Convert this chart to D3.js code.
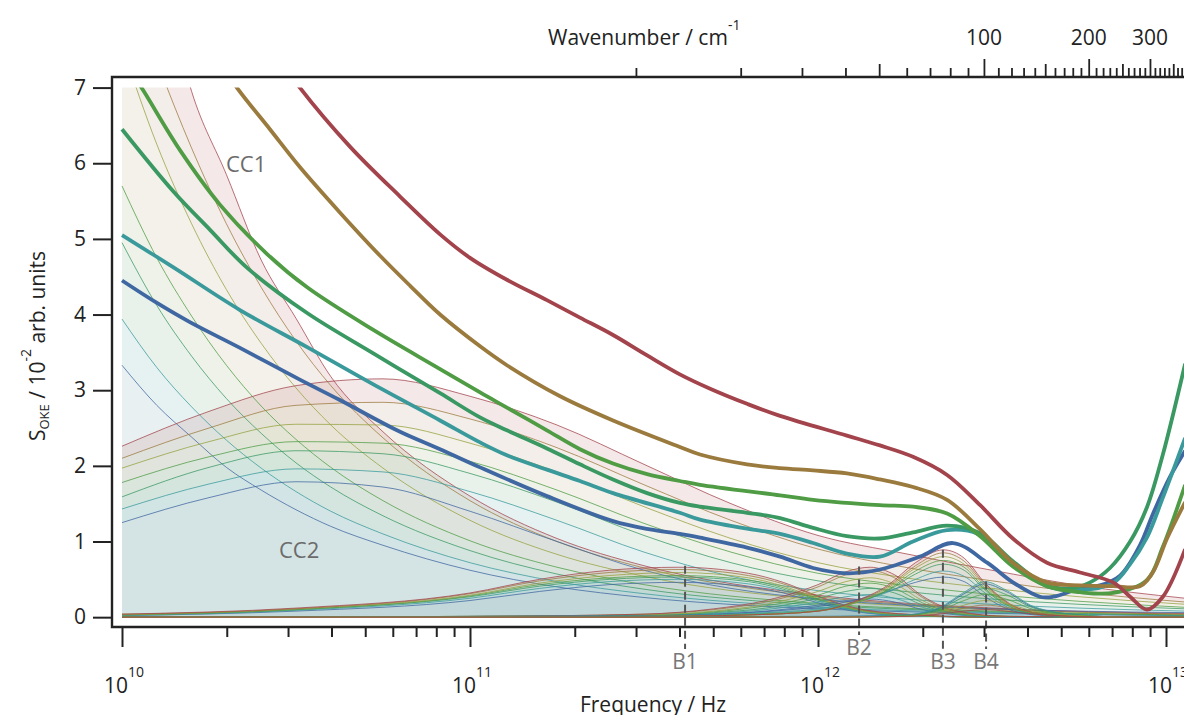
<!DOCTYPE html>
<html>
<head>
<meta charset="utf-8">
<script src="https://cdn.jsdelivr.net/npm/d3@7"></script>
<style>
  body { margin: 0; background: #fff; }
  svg { display: block; font-family: "Open Sans", sans-serif; }
</style>
</head>
<body>
<svg id="chart" width="1184" height="715"></svg>
<script>
// samples, lowest to highest (olive has no total curve drawn)
const sampleColors = ['#3f67a1', '#3a9a9b', '#3a9862', '#4f9c45', '#95a23e', '#9b7a3e', '#a3444c'];
const fillColors = ['#4a8a96', '#3a9a9b', '#4a9862', '#7a9c50', '#a8945a', '#a57a58', '#b04a58'];

// total spectra, [log10(f / Hz), S]
const totalBlue = [[10.000, 4.45], [10.098, 4.16], [10.195, 3.90], [10.339, 3.56], [10.511, 3.14], [10.626, 2.87],
  [10.799, 2.45], [10.914, 2.22], [11.029, 1.98], [11.221, 1.60], [11.411, 1.27], [11.517, 1.16], [11.603, 1.10],
  [11.661, 1.05], [11.796, 0.92], [11.891, 0.80], [11.986, 0.65], [12.083, 0.58], [12.178, 0.63], [12.293, 0.80],
  [12.388, 0.98], [12.486, 0.72], [12.560, 0.46], [12.638, 0.27], [12.675, 0.27], [12.753, 0.38], [12.810, 0.42],
  [12.868, 0.55], [12.925, 0.95], [12.963, 1.37], [13.011, 1.85], [13.055, 2.20]];
const totalTeal = [[10.000, 5.05], [10.149, 4.62], [10.339, 4.06], [10.532, 3.57], [10.721, 3.08], [10.914, 2.60],
  [11.029, 2.31], [11.106, 2.14], [11.221, 1.95], [11.316, 1.80], [11.411, 1.64], [11.603, 1.38], [11.661, 1.29],
  [11.796, 1.17], [11.891, 1.10], [11.986, 0.98], [12.083, 0.84], [12.178, 0.80], [12.273, 1.00], [12.371, 1.15],
  [12.460, 1.10], [12.560, 0.71], [12.658, 0.41], [12.753, 0.36], [12.848, 0.45], [12.897, 0.70], [12.945, 1.05],
  [12.991, 1.58], [13.055, 2.37]];
const totalGreenA = [[10.000, 6.45], [10.149, 5.62], [10.253, 5.12], [10.359, 4.62], [10.532, 4.02], [10.721, 3.49],
  [10.914, 2.96], [11.029, 2.64], [11.106, 2.47], [11.221, 2.23], [11.316, 2.02], [11.411, 1.82], [11.509, 1.64],
  [11.603, 1.51], [11.661, 1.46], [11.796, 1.38], [11.891, 1.31], [11.986, 1.18], [12.083, 1.07], [12.178, 1.04],
  [12.273, 1.12], [12.371, 1.21], [12.466, 1.11], [12.560, 0.74], [12.658, 0.42], [12.727, 0.38], [12.782, 0.46],
  [12.839, 0.65], [12.897, 1.00], [12.945, 1.45], [12.991, 2.15], [13.055, 3.35]];
const totalGreenB = [[10.000, 7.40], [10.060, 6.97], [10.167, 6.17], [10.282, 5.45], [10.417, 4.80], [10.532, 4.36],
  [10.721, 3.80], [10.914, 3.28], [11.029, 2.97], [11.106, 2.77], [11.221, 2.47], [11.316, 2.22], [11.411, 2.03],
  [11.509, 1.89], [11.603, 1.80], [11.661, 1.75], [11.891, 1.61], [11.986, 1.55], [12.178, 1.48], [12.273, 1.46],
  [12.371, 1.37], [12.466, 1.07], [12.560, 0.67], [12.658, 0.41], [12.753, 0.33], [12.848, 0.32], [12.945, 0.49],
  [12.991, 0.93], [13.055, 1.75]];
const totalBrown = [[10.250, 7.55], [10.330, 7.00], [10.425, 6.45], [10.511, 5.95], [10.626, 5.35], [10.741, 4.78],
  [10.828, 4.38], [10.914, 4.00], [11.029, 3.58], [11.106, 3.33], [11.259, 2.92], [11.411, 2.60], [11.603, 2.25],
  [11.661, 2.15], [11.796, 2.02], [11.891, 1.97], [11.986, 1.94], [12.083, 1.90], [12.178, 1.82], [12.273, 1.72],
  [12.371, 1.55], [12.466, 1.16], [12.560, 0.72], [12.658, 0.46], [12.753, 0.42], [12.848, 0.41], [12.925, 0.41],
  [12.963, 0.60], [13.003, 1.04], [13.055, 1.52]];
const totalRed = [[10.420, 7.60], [10.511, 7.00], [10.655, 6.22], [10.799, 5.56], [10.914, 5.06], [11.000, 4.75],
  [11.106, 4.46], [11.221, 4.19], [11.316, 3.96], [11.411, 3.73], [11.509, 3.46], [11.603, 3.21], [11.690, 3.02],
  [11.796, 2.82], [11.891, 2.66], [12.083, 2.40], [12.178, 2.27], [12.273, 2.12], [12.371, 1.88], [12.466, 1.48],
  [12.560, 1.04], [12.658, 0.72], [12.753, 0.59], [12.848, 0.46], [12.897, 0.27], [12.945, 0.10], [12.991, 0.27],
  [13.055, 0.90]];
const totals = [totalBlue, totalTeal, totalGreenA, totalGreenB, totalBrown, totalRed];
const totalColorIndex = [0, 1, 2, 3, 5, 6];

// fit components: one log-frequency grid per component, one row per sample (low to high)
const cc1LogF = [10, 10.1, 10.2, 10.3, 10.4, 10.5, 10.6, 10.75, 11, 11.25, 11.5, 12, 12.5, 13.055];
const cc1 = [
  [3.33, 2.80, 2.38, 1.98, 1.68, 1.42, 1.20, 0.95, 0.62, 0.40, 0.26, 0.11, 0.05, 0.02],
  [3.94, 3.30, 2.78, 2.34, 1.97, 1.66, 1.40, 1.10, 0.72, 0.47, 0.31, 0.13, 0.06, 0.02],
  [4.95, 4.12, 3.45, 2.89, 2.43, 2.04, 1.72, 1.34, 0.88, 0.57, 0.37, 0.16, 0.07, 0.03],
  [5.70, 4.75, 3.98, 3.33, 2.79, 2.35, 1.98, 1.54, 1.01, 0.66, 0.43, 0.18, 0.08, 0.03],
  [7.55, 6.25, 5.20, 4.33, 3.62, 3.03, 2.54, 1.97, 1.28, 0.83, 0.54, 0.23, 0.10, 0.04],
  [8.60, 7.35, 6.20, 5.20, 4.36, 3.65, 3.06, 2.37, 1.54, 1.00, 0.65, 0.27, 0.11, 0.04],
  [10.8, 8.80, 6.95, 5.85, 4.72, 3.95, 3.18, 2.45, 1.60, 1.04, 0.68, 0.29, 0.12, 0.05]
];
const cc2LogF = [10, 10.25, 10.5, 10.75, 11, 11.25, 11.5, 11.75, 12, 12.25, 12.5, 12.75, 13.055];
const cc2 = [
  [1.25, 1.58, 1.79, 1.72, 1.40, 1.00, 0.62, 0.38, 0.24, 0.16, 0.11, 0.08, 0.06],
  [1.43, 1.76, 1.96, 1.92, 1.66, 1.28, 0.86, 0.54, 0.35, 0.24, 0.17, 0.12, 0.08],
  [1.59, 1.98, 2.20, 2.16, 1.90, 1.52, 1.08, 0.72, 0.48, 0.34, 0.24, 0.17, 0.11],
  [1.78, 2.12, 2.32, 2.30, 2.06, 1.68, 1.24, 0.86, 0.58, 0.42, 0.30, 0.21, 0.13],
  [1.97, 2.32, 2.55, 2.54, 2.30, 1.92, 1.46, 1.04, 0.72, 0.52, 0.38, 0.27, 0.17],
  [2.10, 2.50, 2.80, 2.84, 2.62, 2.24, 1.75, 1.28, 0.90, 0.66, 0.48, 0.33, 0.20],
  [2.26, 2.72, 3.06, 3.15, 2.92, 2.54, 2.02, 1.50, 1.08, 0.84, 0.62, 0.42, 0.25]
];
const b1LogF = [10, 10.5, 11, 11.2, 11.4, 11.6, 11.8, 11.9, 12.0, 12.1, 12.25, 12.5, 13.055];
const b1 = [
  [0.02, 0.08, 0.22, 0.34, 0.43, 0.46, 0.40, 0.32, 0.19, 0.08, 0.02, 0, 0],
  [0.02, 0.09, 0.25, 0.38, 0.47, 0.50, 0.44, 0.35, 0.21, 0.09, 0.02, 0, 0],
  [0.03, 0.10, 0.27, 0.41, 0.50, 0.53, 0.47, 0.37, 0.23, 0.10, 0.03, 0, 0],
  [0.03, 0.10, 0.28, 0.43, 0.52, 0.55, 0.49, 0.39, 0.24, 0.11, 0.03, 0, 0],
  [0.03, 0.11, 0.29, 0.45, 0.55, 0.59, 0.52, 0.41, 0.25, 0.11, 0.03, 0, 0],
  [0.04, 0.11, 0.31, 0.48, 0.59, 0.63, 0.55, 0.44, 0.27, 0.12, 0.04, 0, 0],
  [0.04, 0.12, 0.32, 0.50, 0.62, 0.66, 0.58, 0.46, 0.28, 0.13, 0.04, 0, 0]
];
const b2LogF = [10, 11, 11.5, 11.7, 11.85, 12.0, 12.08, 12.15, 12.22, 12.3, 12.4, 12.55, 13.055];
const b2 = [
  [0, 0, 0.02, 0.04, 0.08, 0.16, 0.22, 0.24, 0.20, 0.10, 0.03, 0, 0],
  [0, 0, 0.02, 0.05, 0.10, 0.20, 0.27, 0.30, 0.25, 0.13, 0.04, 0, 0],
  [0, 0.01, 0.02, 0.06, 0.12, 0.25, 0.34, 0.38, 0.32, 0.16, 0.04, 0.01, 0],
  [0, 0.01, 0.03, 0.07, 0.15, 0.29, 0.41, 0.45, 0.38, 0.19, 0.05, 0.01, 0],
  [0, 0.01, 0.03, 0.08, 0.17, 0.34, 0.47, 0.52, 0.44, 0.22, 0.06, 0.01, 0],
  [0, 0.01, 0.04, 0.10, 0.20, 0.40, 0.56, 0.62, 0.52, 0.26, 0.07, 0.01, 0],
  [0, 0.01, 0.04, 0.11, 0.22, 0.43, 0.60, 0.66, 0.56, 0.28, 0.08, 0.01, 0]
];
const b3LogF = [10, 11.5, 11.8, 12.0, 12.1, 12.2, 12.28, 12.36, 12.42, 12.48, 12.55, 12.65, 12.8, 13.055];
const b3 = [
  [0, 0.02, 0.06, 0.14, 0.22, 0.34, 0.46, 0.53, 0.47, 0.27, 0.10, 0.02, 0, 0],
  [0, 0.02, 0.05, 0.11, 0.19, 0.33, 0.50, 0.61, 0.54, 0.32, 0.12, 0.03, 0, 0],
  [0, 0.01, 0.04, 0.09, 0.18, 0.35, 0.57, 0.70, 0.62, 0.36, 0.14, 0.03, 0, 0],
  [0, 0.01, 0.03, 0.08, 0.18, 0.36, 0.61, 0.75, 0.66, 0.38, 0.15, 0.03, 0, 0],
  [0, 0.01, 0.03, 0.08, 0.18, 0.38, 0.65, 0.80, 0.70, 0.41, 0.16, 0.04, 0, 0],
  [0, 0.01, 0.03, 0.08, 0.19, 0.40, 0.68, 0.85, 0.74, 0.43, 0.17, 0.04, 0, 0],
  [0, 0.01, 0.03, 0.08, 0.20, 0.42, 0.72, 0.89, 0.78, 0.45, 0.18, 0.04, 0, 0]
];
const b4LogF = [10, 12.0, 12.25, 12.35, 12.42, 12.48, 12.54, 12.62, 12.75, 12.9, 13.055];
const b4 = [
  [0, 0.01, 0.03, 0.12, 0.31, 0.44, 0.34, 0.13, 0.03, 0, 0],
  [0, 0.01, 0.03, 0.13, 0.33, 0.47, 0.36, 0.14, 0.03, 0, 0],
  [0, 0, 0.02, 0.11, 0.27, 0.38, 0.30, 0.12, 0.03, 0, 0],
  [0, 0, 0.02, 0.09, 0.22, 0.30, 0.24, 0.10, 0.02, 0, 0],
  [0, 0, 0.01, 0.07, 0.16, 0.22, 0.18, 0.08, 0.02, 0, 0],
  [0, 0, 0.01, 0.05, 0.12, 0.16, 0.13, 0.06, 0.01, 0, 0],
  [0, 0, 0.01, 0.04, 0.08, 0.10, 0.08, 0.04, 0.01, 0, 0]
];
const components = [[cc1LogF, cc1], [cc2LogF, cc2], [b1LogF, b1], [b2LogF, b2], [b3LogF, b3], [b4LogF, b4]];

// band markers
const bandNames = ['B1', 'B2', 'B3', 'B4'];
const bandLogF = [11.618, 12.118, 12.359, 12.483];
const bandTop = [0.68, 0.67, 0.89, 0.47];

// axis ticks
const yTicks = [0, 1, 2, 3, 4, 5, 6, 7];
const decadeTicks = [10, 11, 12, 13];
const wavenumberTicks = d3.range(10, 390, 10);
const wavenumberLabels = [100, 200, 300];
const hzPerWavenumber = 2.99792458e10;

const svg = d3.select('#chart');
const plotLeft = 112, plotTop = 77, plotBottom = 627, plotRight = 1184;

const x = d3.scaleLog().domain([1e10, 1e13]).range([122, 1166]);
const y = d3.scaleLinear().domain([-0.13, 7.14]).range([plotBottom, plotTop]);
const xl = L => x(Math.pow(10, L));

svg.append('clipPath').attr('id', 'plotClip')
  .append('rect')
  .attr('x', plotLeft).attr('y', y(7))
  .attr('width', plotRight - plotLeft).attr('height', plotBottom - y(7));

const plot = svg.append('g').attr('clip-path', 'url(#plotClip)');

// component fills: band between each sample and the one below it
components.forEach(([logF, rows]) => {
  const g = plot.append('g');
  rows.forEach((row, i) => {
    const below = i === 0 ? row.map(() => 0) : rows[i - 1];
    const area = d3.area()
      .x((d, k) => xl(logF[k]))
      .y0((d, k) => y(below[k]))
      .y1(d => y(d))
      .curve(d3.curveMonotoneX);
    g.append('path')
      .attr('d', area(row))
      .attr('fill', fillColors[i])
      .attr('fill-opacity', 0.13);
  });
});

// component lines
components.forEach(([logF, rows]) => {
  const line = d3.line()
    .x((d, k) => xl(logF[k]))
    .y(d => y(d))
    .curve(d3.curveMonotoneX);
  rows.forEach((row, i) => {
    plot.append('path')
      .attr('d', line(row))
      .attr('fill', 'none')
      .attr('stroke', sampleColors[i])
      .attr('stroke-width', 0.9)
      .attr('stroke-opacity', 0.85);
  });
});

// total spectra
const totalLine = d3.line()
  .x(d => xl(d[0]))
  .y(d => y(d[1]))
  .curve(d3.curveCatmullRom.alpha(0.5));
totals.forEach((t, i) => {
  plot.append('path')
    .attr('d', totalLine(t))
    .attr('fill', 'none')
    .attr('stroke', sampleColors[totalColorIndex[i]])
    .attr('stroke-width', 3.8)
    .attr('stroke-linejoin', 'round');
});

// band markers
bandNames.forEach((name, i) => {
  const bx = xl(bandLogF[i]);
  const labelY = i === 1 ? 655 : 669;
  svg.append('line')
    .attr('x1', bx).attr('x2', bx)
    .attr('y1', y(bandTop[i])).attr('y2', labelY - 20)
    .attr('stroke', '#555').attr('stroke-width', 2)
    .attr('stroke-dasharray', '8,5');
  svg.append('text')
    .attr('x', bx).attr('y', labelY)
    .attr('text-anchor', 'middle')
    .attr('font-size', 21).attr('fill', '#777')
    .text(name);
});

svg.append('text').attr('x', 226).attr('y', 172)
  .attr('font-size', 22).attr('fill', '#6b6b6b').text('CC1');
svg.append('text').attr('x', 279).attr('y', 558)
  .attr('font-size', 22).attr('fill', '#6b6b6b').text('CC2');

// frame
svg.append('path')
  .attr('d', `M${plotRight},${plotTop}H${plotLeft}V${plotBottom}H${plotRight}`)
  .attr('fill', 'none').attr('stroke', '#222').attr('stroke-width', 2.4);

// left axis
const yAxis = svg.append('g')
  .attr('transform', `translate(${plotLeft},0)`)
  .call(d3.axisLeft(y).tickValues(yTicks).tickSize(19).tickPadding(7));
yAxis.select('.domain').remove();
yAxis.selectAll('line').attr('stroke', '#222').attr('stroke-width', 2);
yAxis.selectAll('text').attr('font-size', 21).attr('font-family', '"Open Sans", sans-serif').attr('fill', '#222');

// bottom axis
const minorTicks = [];
[10, 11, 12].forEach(d => { for (let m = 2; m <= 9; m++) minorTicks.push(m * Math.pow(10, d)); });
const xMinor = svg.append('g')
  .attr('transform', `translate(0,${plotBottom})`)
  .call(d3.axisBottom(x).tickValues(minorTicks).tickSize(10).tickFormat(''));
const xMajor = svg.append('g')
  .attr('transform', `translate(0,${plotBottom})`)
  .call(d3.axisBottom(x).tickValues(decadeTicks.map(d => Math.pow(10, d))).tickSize(20).tickFormat(''));
[xMinor, xMajor].forEach(g => {
  g.select('.domain').remove();
  g.selectAll('line').attr('stroke', '#222').attr('stroke-width', 2);
});
decadeTicks.forEach(d => {
  const t = svg.append('text')
    .attr('x', x(Math.pow(10, d)) + 2).attr('y', 693)
    .attr('text-anchor', 'middle')
    .attr('font-size', 21).attr('fill', '#222');
  t.append('tspan').text('10');
  t.append('tspan').attr('font-size', 14).attr('dy', -16).text(d);
});

// top axis (wavenumber)
const xTop = svg.append('g')
  .attr('transform', `translate(0,${plotTop})`)
  .call(d3.axisTop(x).tickValues(wavenumberTicks.map(w => w * hzPerWavenumber)).tickFormat(''));
xTop.select('.domain').remove();
xTop.selectAll('.tick line')
  .attr('y2', (d, i) => {
    const w = wavenumberTicks[i];
    return w % 100 === 0 ? -18 : (w % 50 === 0 ? -13 : -9);
  })
  .attr('stroke', '#222').attr('stroke-width', 1.8);
wavenumberLabels.forEach(w => {
  svg.append('text')
    .attr('x', x(w * hzPerWavenumber)).attr('y', 45)
    .attr('text-anchor', 'middle')
    .attr('font-size', 21).attr('fill', '#222')
    .text(w);
});

// axis titles
const topTitle = svg.append('text')
  .attr('x', 548).attr('y', 45)
  .attr('font-size', 21).attr('fill', '#222');
topTitle.append('tspan').text('Wavenumber / cm');
topTitle.append('tspan').attr('font-size', 14).attr('dy', -15).text('-1');

svg.append('text')
  .attr('x', 653).attr('y', 712)
  .attr('text-anchor', 'middle')
  .attr('font-size', 21).attr('fill', '#222')
  .text('Frequency / Hz');

const yTitle = svg.append('text')
  .attr('transform', 'translate(45,346) rotate(-90)')
  .attr('text-anchor', 'middle')
  .attr('font-size', 21).attr('fill', '#222');
yTitle.append('tspan').text('S');
yTitle.append('tspan').attr('font-size', 13).attr('dy', 4).text('OKE');
yTitle.append('tspan').attr('dy', -4).text(' / 10');
yTitle.append('tspan').attr('font-size', 14).attr('dy', -14).text('-2');
yTitle.append('tspan').attr('dy', 14).text(' arb. units');
</script>
</body>
</html>
